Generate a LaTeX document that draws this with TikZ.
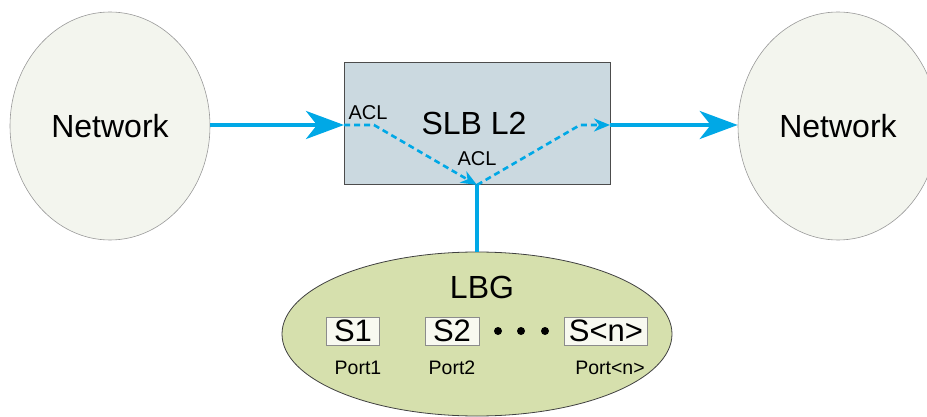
\documentclass[tikz,border=0pt]{standalone}
\usepackage{fontspec}
\setmainfont{Liberation Sans}
\usetikzlibrary{arrows.meta,shapes.geometric}
\definecolor{flow}{RGB}{0,168,230}
\definecolor{netfill}{RGB}{243,245,238}
\definecolor{boxfill}{RGB}{203,217,224}
\definecolor{lbgfill}{RGB}{214,224,173}
\definecolor{srvfill}{RGB}{248,249,240}
\begin{document}
\begin{tikzpicture}[x=1pt,y=-1pt,
  net/.style={ellipse,draw=black!40,fill=netfill,line width=0.6pt,minimum width=200pt,minimum height=228pt,inner sep=0pt},
  slb/.style={rectangle,draw=black!70,fill=boxfill,line width=1pt,minimum width=266pt,minimum height=122pt,inner sep=0pt},
  lbg/.style={ellipse,draw=black!75,fill=lbgfill,line width=0.8pt,minimum width=390pt,minimum height=164pt,inner sep=0pt},
  srv/.style={rectangle,draw=black!45,fill=srvfill,line width=0.6pt,inner sep=0pt,minimum height=28pt,font=\fontsize{31}{31}\selectfont},
  big/.style={font=\fontsize{32}{32}\selectfont},
  small/.style={font=\fontsize{20}{20}\selectfont},
  port/.style={font=\fontsize{19.5}{19.5}\selectfont},
  flowline/.style={draw=flow,line width=4pt},
  bigtip/.style={-{Stealth[length=38pt,width=28pt,inset=11pt]}},
  dashflow/.style={draw=flow,line width=2.6pt,dash pattern=on 6pt off 4pt},
  smalltip/.style={-{Stealth[length=16pt,width=13pt,inset=5pt]}},
  dot/.style={circle,fill=black,inner sep=0pt,minimum size=8pt}
]
\useasboundingbox (0,0) rectangle (927,417);
\node[net] (netL) at (110,126) {};
\node[big] (netLt) at (110,126) {Network};
\node[net] (netR) at (838,126) {};
\node[big] (netRt) at (838,126) {Network};
\node[slb] (slb) at (477,124) {};
\node[big] (slbt) at (474,123) {SLB L2};
\node[lbg] (lbg) at (477,334) {};
\node[big] (lbgt) at (482,287) {LBG};
\node[srv,minimum width=53pt] (s1) at (353,331) {S1};
\node[srv,minimum width=54pt] (s2) at (452,331) {S2};
\node[srv,minimum width=83pt] (sn) at (606,331) {S<n>};
\node[dot] (d1) at (498,331) {};
\node[dot] (d2) at (521,331) {};
\node[dot] (d3) at (545,331) {};
\node[port] (p1) at (358,368) {Port1};
\node[port] (p2) at (452,368) {Port2};
\node[port] (pn) at (610,368) {Port<n>};
\node[small] (acl1) at (368,113) {ACL};
\node[small] (acl2) at (477,159) {ACL};
% connectors
\coordinate (inP) at (344,125);
\coordinate (outP) at (610,125);
\coordinate (k1) at (374,125);
\coordinate (k2) at (580,125);
\coordinate (jn) at (477,185);
\draw[flowline,bigtip] (netL.east |- inP) -- (inP);
\draw[flowline,bigtip] (outP) -- (netR.west |- outP);
\draw[flowline] (slb.south) -- (lbg.north);
\draw[dashflow,smalltip] (inP) -- (k1) -- (jn);
\draw[dashflow,smalltip] (jn) -- (k2) -- (outP);
\end{tikzpicture}
\end{document}
